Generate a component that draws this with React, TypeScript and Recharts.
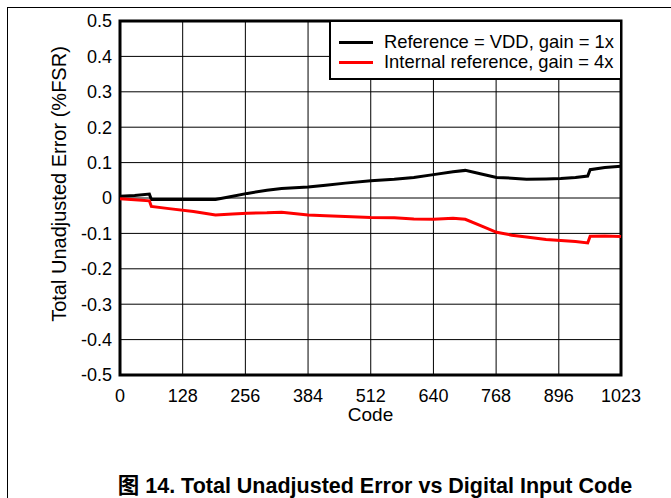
import React from 'react';
import { LineChart, Line, XAxis, YAxis, CartesianGrid, ReferenceArea } from 'recharts';

// input codes where the curves were sampled
const codes = [0, 30, 60, 64, 100, 150, 195, 230, 260, 300, 330, 384, 420, 460, 512, 560, 600, 640, 680, 705, 740, 769, 800, 830, 870, 900, 930, 955, 960, 990, 1023];

// Reference = VDD, gain = 1x
const vddGain1 = [0.005, 0.007, 0.011, -0.004, -0.004, -0.004, -0.004, 0.005, 0.013, 0.022, 0.027, 0.031, 0.036, 0.042, 0.049, 0.053, 0.058, 0.066, 0.074, 0.078, 0.067, 0.058, 0.056, 0.053, 0.054, 0.055, 0.058, 0.062, 0.08, 0.086, 0.09];

// Internal reference, gain = 4x
const intGain4 = [-0.002, -0.005, -0.008, -0.024, -0.03, -0.038, -0.048, -0.045, -0.043, -0.042, -0.04, -0.048, -0.05, -0.052, -0.055, -0.056, -0.059, -0.06, -0.057, -0.06, -0.08, -0.097, -0.105, -0.11, -0.117, -0.12, -0.123, -0.127, -0.108, -0.107, -0.109];

const xTicks = [0, 128, 256, 384, 512, 640, 768, 896, 1023];
const yTicks = [-0.5, -0.4, -0.3, -0.2, -0.1, 0, 0.1, 0.2, 0.3, 0.4, 0.5];

const seriesNames = ['Reference = VDD, gain = 1x', 'Internal reference, gain = 4x'];
const seriesColors = ['#000000', '#ff0000'];

const FONT = '"Liberation Sans", Arial, "Noto Sans CJK SC", sans-serif';

const data = codes.map((code, i) => ({ code, vdd: vddGain1[i], internal: intGain4[i] }));

// legend sits in the top-right corner of the plot and hides the grid behind it
const LegendBox = () => (
  <div
    style={{
      position: 'absolute',
      left: 329,
      top: 22,
      width: 291,
      height: 58,
      background: '#fff',
      borderLeft: '2px solid #000',
      borderBottom: '2px solid #000',
      boxSizing: 'border-box',
      paddingTop: 10,
      paddingLeft: 8,
      fontFamily: FONT,
      fontSize: 18.4,
      color: '#000',
    }}
  >
    {seriesNames.map((name, i) => (
      <div key={name} style={{ display: 'flex', alignItems: 'center', height: 20 }}>
        <span style={{ display: 'inline-block', width: 34, height: 3, background: seriesColors[i], marginRight: 11 }} />
        <span>{name}</span>
      </div>
    ))}
  </div>
);

const App: React.FC = () => {
  return (
    <div style={{ position: 'absolute', left: 0, top: 0, width: 671, height: 498, background: '#fff', overflow: 'hidden' }}>
      <div style={{ position: 'absolute', left: 7, top: 7, width: 664, height: 1, background: '#000' }} />
      <div style={{ position: 'absolute', left: 7, top: 7, width: 1, height: 491, background: '#000' }} />
      <div style={{ position: 'absolute', left: 0, top: 0 }}>
        <LineChart width={671} height={440} data={data} margin={{ top: 21, right: 50, bottom: 15, left: 10 }}>
          <CartesianGrid stroke="#000" strokeWidth={1} />
          <XAxis
            dataKey="code"
            type="number"
            domain={[0, 1023]}
            ticks={xTicks}
            interval={0}
            tickLine={false}
            tickSize={0}
            tickMargin={14}
            axisLine={false}
            height={50}
            tick={{ fill: '#000', fontSize: 18, fontFamily: FONT }}
            label={{
              content: ({ viewBox }: any) => (
                <text x={viewBox.x + viewBox.width / 2} y={421} textAnchor="middle" fill="#000" fontSize={19} fontFamily={FONT}>
                  Code
                </text>
              ),
            }}
          />
          <YAxis
            type="number"
            domain={[-0.5, 0.5]}
            ticks={yTicks}
            interval={0}
            tickLine={false}
            tickSize={0}
            tickMargin={8}
            axisLine={false}
            width={110}
            tickFormatter={(v: number) => (v === 0 ? '0' : v.toFixed(1))}
            tick={{ fill: '#000', fontSize: 18, fontFamily: FONT }}
            label={{
              content: () => (
                <text
                  x={66}
                  y={184}
                  transform="rotate(-90 66 184)"
                  textAnchor="middle"
                  fill="#000"
                  fontSize={20}
                  fontFamily={FONT}
                >
                  Total Unadjusted Error (%FSR)
                </text>
              ),
            }}
          />
          <ReferenceArea x1={0} x2={1023} y1={-0.5} y2={0.5} fill="none" stroke="#000" strokeWidth={3} ifOverflow="visible" />
          <Line type="linear" dataKey="vdd" name={seriesNames[0]} stroke={seriesColors[0]} strokeWidth={3} dot={false} isAnimationActive={false} />
          <Line type="linear" dataKey="internal" name={seriesNames[1]} stroke={seriesColors[1]} strokeWidth={3} dot={false} isAnimationActive={false} />
        </LineChart>
      </div>
      <LegendBox />
      <div
        style={{
          position: 'absolute',
          left: 0,
          width: 750,
          top: 474,
          lineHeight: '24px',
          textAlign: 'center',
          fontFamily: FONT,
          fontWeight: 'bold',
          fontSize: 21.5,
          color: '#000',
          whiteSpace: 'nowrap',
        }}
      >
        图 14. Total Unadjusted Error vs Digital Input Code
      </div>
    </div>
  );
};

export default App;
